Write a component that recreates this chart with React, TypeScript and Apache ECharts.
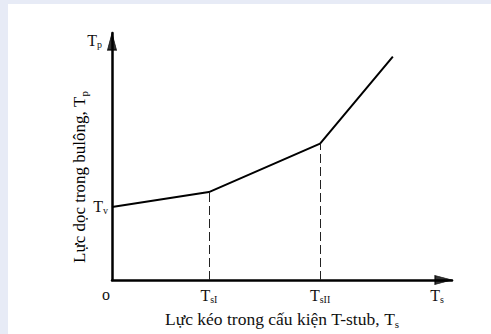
import React, { useEffect, useRef } from "react";
import * as echarts from "echarts";

// Piecewise-linear bolt force vs. T-stub tension (schematic units)
const tsPoints = [0, 2.85, 6.12, 8.26];
const tpPoints = [2.96, 3.56, 5.52, 9.04];

// Labelled positions on the axes
const xTickValues = [0, 2.85, 6.12, 9.56];
const xTickLabels = ["{o|o}", "{t|T}{s|sI}", "{t|T}{s|sII}", "{t|T}{s|s}"];
const yTickValues = [2.96];
const yTickLabels = ["{t|T}{s|v}"];

const X_MAX = 10;
const Y_MAX = 10;

const FONT = "'Liberation Serif', 'Times New Roman', serif";

const rich = {
  t: { fontFamily: FONT, fontSize: 16, color: "#111", lineHeight: 18 },
  s: { fontFamily: FONT, fontSize: 10, color: "#111", lineHeight: 18, verticalAlign: "bottom", padding: [6, 0, 0, 0] },
  o: { fontFamily: FONT, fontSize: 16, color: "#111", padding: [0, 12, 0, 0] },
};

const xNameRich = {
  n: { fontFamily: FONT, fontSize: 17.5, color: "#111", lineHeight: 20 },
  t: { fontFamily: FONT, fontSize: 17.5, color: "#111", lineHeight: 20 },
  s: { fontFamily: FONT, fontSize: 11, color: "#111", lineHeight: 20, verticalAlign: "bottom", padding: [6, 0, 0, 0] },
};

const yNameRich = {
  n: { fontFamily: FONT, fontSize: 17, color: "#111", lineHeight: 20 },
  t: { fontFamily: FONT, fontSize: 17, color: "#111", lineHeight: 20 },
  s: { fontFamily: FONT, fontSize: 11, color: "#111", lineHeight: 20, verticalAlign: "bottom", padding: [6, 0, 0, 0] },
};

const axisLine = { show: true, lineStyle: { color: "#000", width: 2.5 } };

export default function App() {
  const ref = useRef<HTMLDivElement>(null);

  useEffect(() => {
    if (!ref.current) return;
    const chart = echarts.init(ref.current, undefined, { renderer: "svg" });

    const curve = tsPoints.map((x, i) => [x, tpPoints[i]]);
    const guides = [1, 2].map((i) => [
      { coord: [tsPoints[i], 0] },
      { coord: [tsPoints[i], tpPoints[i]] },
    ]);

    chart.setOption({
      animation: false,
      backgroundColor: "#e7ebf6",
      graphic: [
        {
          type: "rect",
          z: -10,
          shape: { x: 8, y: 4, width: 483, height: 330 },
          style: { fill: "#ffffff" },
          silent: true,
        },
        {
          // Rotated y-axis title beside the axis
          type: "text",
          x: 79,
          y: 177,
          rotation: Math.PI / 2,
          style: {
            text: "{n|Lực dọc trong bulông, }{t|T}{s|p}",
            rich: yNameRich,
            align: "center",
            verticalAlign: "middle",
          },
        },
      ],
      grid: { left: 112, right: 39, top: 33, bottom: 51, containLabel: false },
      xAxis: {
        type: "value",
        min: 0,
        max: X_MAX,
        name: "{n|Lực kéo trong cấu kiện T-stub, }{t|T}{s|s}",
        nameLocation: "middle",
        nameGap: 29,
        nameTextStyle: { rich: xNameRich },
        axisLine,
        axisTick: { show: false },
        splitLine: { show: false },
        axisLabel: {
          customValues: xTickValues,
          formatter: (v: number) => {
            const i = xTickValues.findIndex((x) => Math.abs(x - v) < 1e-6);
            return i >= 0 ? xTickLabels[i] : "";
          },
          margin: 6,
          rich,
        },
      },
      yAxis: {
        type: "value",
        min: 0,
        max: Y_MAX,
        name: "{t|T}{s|p}",
        nameLocation: "end",
        nameGap: -16,
        nameTextStyle: { rich, align: "right", padding: [0, 10, 0, 0] },
        axisLine,
        axisTick: { show: false },
        splitLine: { show: false },
        axisLabel: {
          customValues: yTickValues,
          formatter: (v: number) => {
            const i = yTickValues.findIndex((y) => Math.abs(y - v) < 1e-6);
            return i >= 0 ? yTickLabels[i] : "";
          },
          margin: 4,
          rich,
        },
      },
      series: [
        {
          type: "line",
          data: curve,
          symbol: "none",
          lineStyle: { color: "#000", width: 2 },
          markLine: {
            silent: true,
            symbol: "none",
            label: { show: false },
            lineStyle: { color: "#222", width: 1, type: [9, 4] },
            data: guides,
          },
        },
        {
          // Solid arrowheads at the ends of both axes
          type: "scatter",
          clip: false,
          silent: true,
          symbol: "triangle",
          symbolSize: [9, 17],
          itemStyle: { color: "#000", borderColor: "#000", borderWidth: 1 },
          z: 5,
          data: [
            { value: [X_MAX, 0], symbolRotate: -90, symbolOffset: [-8.5, 0] },
            { value: [0, Y_MAX], symbolRotate: 0, symbolOffset: [0, 8.5] },
          ],
        },
      ],
    });

    return () => chart.dispose();
  }, []);

  return (
    <div
      ref={ref}
      style={{ position: "absolute", left: 0, top: 0, width: 491, height: 334 }}
    />
  );
}
